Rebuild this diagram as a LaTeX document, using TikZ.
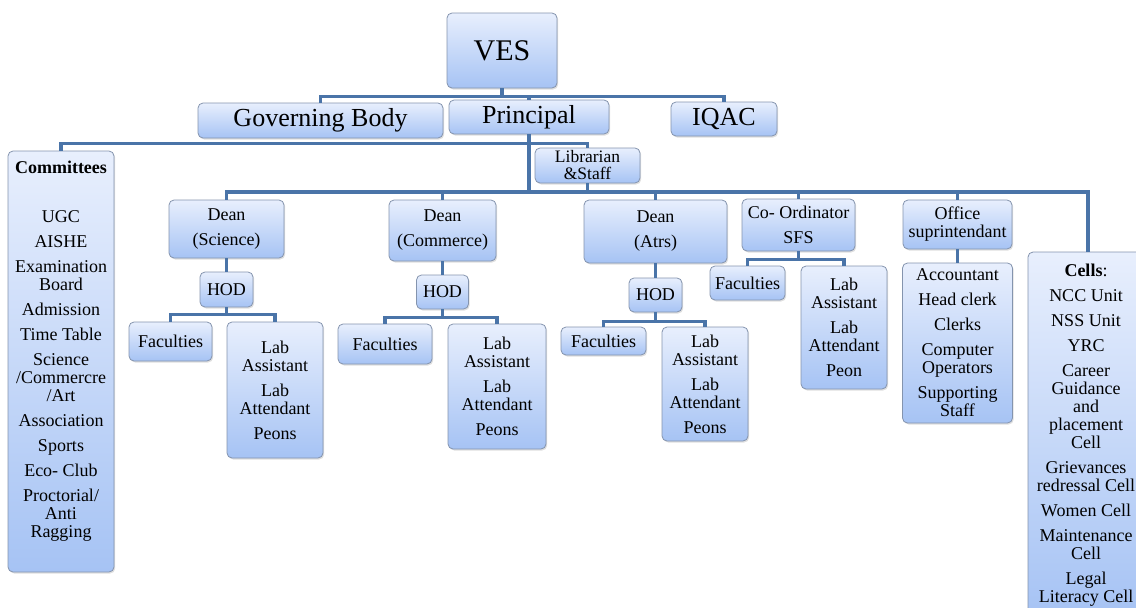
\documentclass[tikz,border=0pt]{standalone}
\usepackage{fontspec}
\setmainfont{Liberation Serif}
\usetikzlibrary{positioning,shadows}
\definecolor{linkblue}{HTML}{4A74A8}
\definecolor{boxtop}{HTML}{E8EFFD}
\definecolor{boxbot}{HTML}{A6C3F4}
\definecolor{boxline}{HTML}{8494AE}

\begin{document}
\begin{tikzpicture}[x=1pt,y=-1pt,
  box/.style={draw=boxline,line width=0.8pt,rounded corners=5pt,top color=boxtop,bottom color=boxbot,drop shadow={opacity=0.25,shadow xshift=1.2pt,shadow yshift=-1.5pt},inner sep=2pt,align=center,font=\fontsize{18pt}{18pt}\selectfont},
  big/.style={box,font=\fontsize{26pt}{28pt}\selectfont},
  txt/.style={align=center,inner sep=0pt,font=\fontsize{18pt}{18pt}\selectfont},
  link/.style={draw=linkblue,line width=3.6pt}
]
  \useasboundingbox (0,0) rectangle (1136,608);
  \node[box,font=\fontsize{30pt}{32pt}\selectfont,minimum width=110pt,minimum height=75pt] (ves) at (502,50.5) {VES};
  \node[big,minimum width=245pt,minimum height=35pt] (gov) at (320.5,120.5) {Governing Body};
  \node[big,minimum width=160pt,minimum height=34pt] (prin) at (529,117) {Principal};
  \node[big,minimum width=106pt,minimum height=34pt] (iqac) at (724,119) {IQAC};
  \node[box,font=\fontsize{17.5pt}{17pt}\selectfont,minimum width=105pt,minimum height=35pt] (lib) at (587.5,165.5) {Librarian\\\&Staff};

  \node[box,minimum width=106pt,minimum height=421pt] (com) at (61,361.5) {};
  \node[txt,below=10pt of com.north] (comt) {\textbf{Committees}\\[31pt]UGC\\[7pt]AISHE\\[7pt]Examination\\Board\\[7pt]Admission\\[7pt]Time Table\\[7pt]Science\\/Commercre\\/Art\\[7pt]Association\\[7pt]Sports\\[7pt]Eco- Club\\[7pt]Proctorial/\\Anti\\Ragging};

  \node[box,minimum width=115pt,minimum height=58pt] (dsc) at (226.5,229) {Dean\\[7pt](Science)};
  \node[box,minimum width=53pt,minimum height=35pt] (hsc) at (226.5,289.5) {HOD};
  \node[box,minimum width=83pt,minimum height=39pt] (fsc) at (170.5,341.5) {Faculties};
  \node[box,minimum width=96pt,minimum height=136pt] (lsc) at (275,390) {Lab\\Assistant\\[7pt]Lab\\Attendant\\[7pt]Peons};

  \node[box,minimum width=107pt,minimum height=61pt] (dcm) at (442.5,230.5) {Dean\\[7pt](Commerce)};
  \node[box,minimum width=52pt,minimum height=34pt] (hcm) at (442.5,292) {HOD};
  \node[box,minimum width=94pt,minimum height=40pt] (fcm) at (385,344) {Faculties};
  \node[box,minimum width=98pt,minimum height=125pt] (lcm) at (497,386.5) {Lab\\Assistant\\[7pt]Lab\\Attendant\\[7pt]Peons};

  \node[box,minimum width=143pt,minimum height=63pt] (dat) at (655.5,231.5) {Dean\\[7pt](Atrs)};
  \node[box,minimum width=53pt,minimum height=34pt] (hat) at (655.5,295) {HOD};
  \node[box,minimum width=85pt,minimum height=28pt] (fat) at (603.5,341) {Faculties};
  \node[box,minimum width=86pt,minimum height=114pt] (lat) at (705,384) {Lab\\Assistant\\[7pt]Lab\\Attendant\\[7pt]Peons};

  \node[box,minimum width=113pt,minimum height=52pt] (sfs) at (798.5,225) {Co- Ordinator\\[7pt]SFS};
  \node[box,minimum width=75pt,minimum height=34pt] (fsf) at (747.5,283) {Faculties};
  \node[box,minimum width=86pt,minimum height=123pt] (lsf) at (844,327.5) {Lab\\Assistant\\[7pt]Lab\\Attendant\\[7pt]Peon};

  \node[box,minimum width=109pt,minimum height=49pt] (off) at (957.5,224.5) {Office\\suprintendant};
  \node[box,minimum width=110pt,minimum height=160pt] (stf) at (957.5,343) {Accountant\\[7pt]Head clerk\\[7pt]Clerks\\[7pt]Computer\\Operators\\[7pt]Supporting\\Staff};

  \node[box,minimum width=120pt,minimum height=364pt] (cel) at (1088,434) {};
  \node[txt,anchor=north] (celt) at ([xshift=-2pt,yshift=-12pt]cel.north) {\textbf{Cells}:\\[7pt]NCC Unit\\[7pt]NSS Unit\\[7pt]YRC\\[7pt]Career\\Guidance\\and\\placement\\Cell\\[7pt]Grievances\\redressal Cell\\[7pt]Women Cell\\[7pt]Maintenance\\Cell\\[7pt]Legal\\Literacy Cell};

  \draw[link] (ves.south) -- ++(0,8) -| (gov.north);
  \draw[link] (ves.south) -- ++(0,8) -| (prin.north);
  \draw[link] (ves.south) -- ++(0,8) -| (iqac.north);
  \draw[link] (prin.south) -- ++(0,9) -| (com.north);
  \draw[link] (prin.south) -- ++(0,9) -| (lib.north);
  \coordinate (lb) at (529,192);
  \draw[link] (prin.south) -- (lb);
  \draw[link] (lib.south) -- (lib.south |- lb);
  \foreach \n in {dsc,dcm,dat,sfs,off,cel} \draw[link] (lb) -| (\n.north);
  \draw[link] (dsc.south) -- (hsc.north);
  \draw[link] (hsc.south) -- ++(0,7) -| (fsc.north);\draw[link] (hsc.south) -- ++(0,7) -| (lsc.north);
  \draw[link] (dcm.south) -- (hcm.north);
  \draw[link] (hcm.south) -- ++(0,8) -| (fcm.north);\draw[link] (hcm.south) -- ++(0,8) -| (lcm.north);
  \draw[link] (dat.south) -- (hat.north);
  \draw[link] (hat.south) -- ++(0,9) -| (fat.north);\draw[link] (hat.south) -- ++(0,9) -| (lat.north);
  \draw[link] (sfs.south) -- ++(0,8) -| (fsf.north);\draw[link] (sfs.south) -- ++(0,8) -| (lsf.north);
  \draw[link] (off.south) -- (stf.north);
\end{tikzpicture}
\end{document}
